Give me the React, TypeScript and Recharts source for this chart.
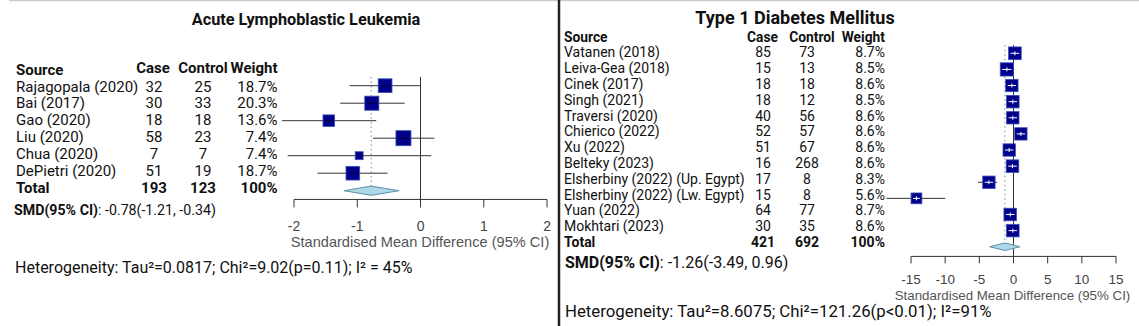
import React from 'react'
import { ScatterChart, Scatter, XAxis, YAxis, ZAxis, ErrorBar, ReferenceLine } from 'recharts'

// Acute Lymphoblastic Leukemia
const sourcesL = ['Rajagopala (2020)', 'Bai (2017)', 'Gao (2020)', 'Liu (2020)', 'Chua (2020)', 'DePietri (2020)']
const caseL = [32, 30, 18, 58, 7, 51]
const controlL = [25, 33, 18, 23, 7, 19]
const weightL = ['18.7%', '20.3%', '13.6%', '7.4%', '7.4%', '18.7%']
const smdL = [-0.56, -0.77, -1.45, -0.27, -0.97, -1.07]
const lowL = [-1.12, -1.27, -2.19, -0.75, -2.1, -1.63]
const highL = [0.0, -0.25, -0.7, 0.22, 0.17, -0.52]
const boxL = [0.84, 0.88, 0.6, 1, 0.28, 0.83]
const totalL = { cases: 193, controls: 123, weight: '100%', est: -0.78, low: -1.21, high: -0.34 }
const ticksL = [-2, -1, 0, 1, 2]

// Type 1 Diabetes Mellitus
const sourcesR = [
  'Vatanen (2018)', 'Leiva-Gea (2018)', 'Cinek (2017)', 'Singh (2021)', 'Traversi (2020)', 'Chierico (2022)',
  'Xu (2022)', 'Belteky (2023)', 'Elsherbiny (2022) (Up. Egypt)', 'Elsherbiny (2022) (Lw. Egypt)', 'Yuan (2022)',
  'Mokhtari (2023)',
]
const caseR = [85, 15, 18, 18, 40, 52, 51, 16, 17, 15, 64, 30]
const controlR = [73, 13, 18, 12, 56, 57, 67, 268, 8, 8, 77, 35]
const weightR = ['8.7%', '8.5%', '8.6%', '8.5%', '8.6%', '8.6%', '8.6%', '8.6%', '8.3%', '5.6%', '8.7%', '8.6%']
const smdR = [0.2, -0.97, -0.24, -0.1, -0.1, 1.08, -0.63, -0.15, -3.6, -14.2, -0.48, -0.1]
const lowR = [-0.12, -1.8, -0.9, -0.8, -0.5, 0.65, -1.0, -0.68, -5.2, -18.6, -0.82, -0.6]
const highR = [0.52, -0.15, 0.42, 0.6, 0.3, 1.5, -0.26, 0.38, -2.4, -10.0, -0.14, 0.4]
const boxR = [0.72, 0.78, 0.68, 0.7, 0.68, 0.68, 0.68, 0.7, 0.68, 0.52, 0.7, 0.7]
const totalR = { cases: 421, controls: 692, weight: '100%', est: -1.26, low: -3.49, high: 0.96 }
const ticksR = [-15, -10, -5, 0, 5, 10, 15]

const TEXT_FONT = 'Roboto, "Noto Sans", sans-serif'
const AXIS_FONT = '"Liberation Sans", Arial, sans-serif'
const BOX_FILL = '#00008B'

function buildRows(est: number[], low: number[], high: number[], box: number[]) {
  return est.map((x, i) => ({ x, y: i, z: box[i], err: [x - low[i], high[i] - x] }))
}

function makeBox(inner: string, cross: boolean) {
  return (props: any) => {
    const { cx, cy, width } = props
    const s = width
    return (
      <g>
        <rect x={cx - s / 2} y={cy - s / 2} width={s} height={s} fill={BOX_FILL} stroke="#3b4fb8" strokeWidth={0.8} />
        <line x1={cx - s / 2 + 2} x2={cx + s / 2 - 2} y1={cy} y2={cy} stroke={inner} strokeWidth={1} />
        {cross && <line x1={cx} x2={cx} y1={cy - 2} y2={cy + 2} stroke={inner} strokeWidth={1} />}
      </g>
    )
  }
}

function diamond(est: number, low: number, high: number, half: number) {
  return (p: any) => {
    const { x1, x2, y1 } = p
    const mid = x1 + ((est - low) / (high - low)) * (x2 - x1)
    const pts = `${x1},${y1} ${mid},${y1 - half} ${x2},${y1} ${mid},${y1 + half}`
    return <polygon points={pts} fill="#add8e6" stroke="#5f8fa8" strokeWidth={1} />
  }
}

interface ForestProps {
  left: number
  width: number
  margin: { top: number; right: number; left: number; bottom: number }
  axisHeight: number
  xDomain: [number, number]
  yBottom: number
  ticks: number[]
  rows: ReturnType<typeof buildRows>
  total: typeof totalL
  tickSize: number
  tickMargin: number
  tickFont: number
  diamondHalf: number
  innerColor: string
  cross: boolean
}

function Forest(p: ForestProps) {
  const n = p.rows.length
  return (
    <div style={{ position: 'absolute', left: p.left, top: 0 }}>
      <ScatterChart width={p.width} height={326} margin={p.margin}>
        <XAxis
          type="number"
          dataKey="x"
          domain={p.xDomain}
          ticks={p.ticks}
          interval={0}
          allowDataOverflow
          axisLine={false}
          tickLine={{ stroke: '#333' }}
          tickSize={p.tickSize}
          tickMargin={p.tickMargin}
          height={p.axisHeight}
          tick={{ fill: '#444', fontSize: p.tickFont, fontFamily: AXIS_FONT }}
        />
        <YAxis type="number" dataKey="y" domain={[-0.5, p.yBottom]} reversed hide allowDataOverflow />
        <ZAxis type="number" dataKey="z" domain={[0, 1]} range={[0, 177]} />
        <ReferenceLine
          segment={[{ x: 0, y: -0.5 }, { x: 0, y: p.yBottom }]}
          stroke="#333"
          strokeWidth={1}
        />
        <ReferenceLine
          segment={[{ x: p.total.est, y: -0.5 }, { x: p.total.est, y: n }]}
          stroke="#888"
          strokeWidth={1}
          strokeDasharray="1.5 3"
        />
        <ReferenceLine
          segment={[{ x: p.ticks[0], y: p.yBottom }, { x: p.ticks[p.ticks.length - 1], y: p.yBottom }]}
          stroke="#333"
          strokeWidth={1}
        />
        <ReferenceLine
          segment={[{ x: p.total.low, y: n }, { x: p.total.high, y: n }]}
          shape={diamond(p.total.est, p.total.low, p.total.high, p.diamondHalf)}
        />
        <Scatter data={p.rows} shape={makeBox(p.innerColor, p.cross)} isAnimationActive={false}>
          <ErrorBar dataKey="err" direction="x" width={0} stroke="#333" strokeWidth={1} isAnimationActive={false} />
        </Scatter>
      </ScatterChart>
    </div>
  )
}

interface TableProps {
  sources: string[]
  cases: number[]
  controls: number[]
  weights: string[]
  total: typeof totalL
  fontSize: number
  headFont: number
  srcX: number
  caseX: number
  ctrlX: number
  weightX: number
  headCaseX: number
  headCtrlX: number
  headSrcY: number
  headY: number
  rowY: number
  step: number
}

function Table(t: TableProps) {
  const totalY = t.rowY + t.step * t.sources.length
  return (
    <g fontFamily={TEXT_FONT} fontSize={t.fontSize} fill="#111">
      <g fontWeight="bold" fontSize={t.headFont}>
        <text x={t.srcX} y={t.headSrcY}>Source</text>
        <text x={t.headCaseX} y={t.headY} textAnchor="middle">Case</text>
        <text x={t.headCtrlX} y={t.headY} textAnchor="middle">Control</text>
        <text x={t.weightX} y={t.headY} textAnchor="end">Weight</text>
      </g>
      {t.sources.map((s, i) => {
        const y = t.rowY + t.step * i
        return (
          <g key={s}>
            <text x={t.srcX} y={y}>{s}</text>
            <text x={t.caseX} y={y} textAnchor="middle">{t.cases[i]}</text>
            <text x={t.ctrlX} y={y} textAnchor="middle">{t.controls[i]}</text>
            <text x={t.weightX} y={y} textAnchor="end">{t.weights[i]}</text>
          </g>
        )
      })}
      <g fontWeight="bold">
        <text x={t.srcX} y={totalY}>Total</text>
        <text x={t.caseX} y={totalY} textAnchor="middle">{t.total.cases}</text>
        <text x={t.ctrlX} y={totalY} textAnchor="middle">{t.total.controls}</text>
        <text x={t.weightX} y={totalY} textAnchor="end">{t.total.weight}</text>
      </g>
    </g>
  )
}

export default function App() {
  const rowsL = buildRows(smdL, lowL, highL, boxL)
  const rowsR = buildRows(smdR, lowR, highR, boxR)
  return (
    <div style={{ position: 'absolute', left: 0, top: 0, width: 1139, height: 326, background: '#fff', overflow: 'hidden' }}>
      <svg width={1139} height={326} style={{ position: 'absolute', left: 0, top: 0 }}>
        <line x1={9} x2={1139} y1={0.5} y2={0.5} stroke="#ccc" strokeWidth={1.5} />
        <line x1={559} x2={559} y1={0} y2={326} stroke="#222" strokeWidth={2.5} />

        <text x={306} y={25} textAnchor="middle" fontFamily={TEXT_FONT} fontWeight="bold" fontSize={16.3} fill="#111">
          Acute Lymphoblastic Leukemia
        </text>
        <Table
          sources={sourcesL} cases={caseL} controls={controlL} weights={weightL} total={totalL}
          fontSize={15} headFont={15} srcX={16} caseX={154} ctrlX={203} weightX={277.5} headCaseX={153} headCtrlX={203}
          headSrcY={75} headY={72.5} rowY={91.5} step={16.9}
        />
        <text x={14} y={215} fontFamily={TEXT_FONT} fontSize={14.2} fill="#111">
          <tspan fontWeight="bold">SMD(95% CI)</tspan>: -0.78(-1.21, -0.34)
        </text>
        <text x={420} y={246.5} textAnchor="middle" fontFamily={AXIS_FONT} fontSize={14.6} fill="#555">
          Standardised Mean Difference (95% CI)
        </text>
        <text x={15} y={273} fontFamily={TEXT_FONT} fontSize={16} fill="#111">
          Heterogeneity: Tau²=0.0817; Chi²=9.02(p=0.11); I² = 45%
        </text>

        <text x={795} y={24} textAnchor="middle" fontFamily={TEXT_FONT} fontWeight="bold" fontSize={18} fill="#111">
          Type 1 Diabetes Mellitus
        </text>
        <Table
          sources={sourcesR} cases={caseR} controls={controlR} weights={weightR} total={totalR}
          fontSize={14} headFont={13.8} srcX={564} caseX={763} ctrlX={807} weightX={885} headCaseX={762.5} headCtrlX={812}
          headSrcY={41.5} headY={41.5} rowY={57.3} step={15.8}
        />
        <text x={565} y={268} fontFamily={TEXT_FONT} fontSize={16} fill="#111">
          <tspan fontWeight="bold">SMD(95% CI)</tspan>: -1.26(-3.49, 0.96)
        </text>
        <text x={1012.5} y={300} textAnchor="middle" fontFamily={AXIS_FONT} fontSize={13.3} fill="#555">
          Standardised Mean Difference (95% CI)
        </text>
        <text x={565} y={317} fontFamily={TEXT_FONT} fontSize={16.8} fill="#111">
          Heterogeneity: Tau²=8.6075; Chi²=121.26(p&lt;0.01); I²=91%
        </text>
      </svg>

      <Forest
        left={260}
        width={300}
        margin={{ top: 76.95, right: 9.8, left: 18.2, bottom: 0 }}
        axisHeight={126.55}
        xDomain={[-2.25, 2.05]}
        yBottom={6.5}
        ticks={ticksL}
        rows={rowsL}
        total={totalL}
        tickSize={8}
        tickMargin={14}
        tickFont={14}
        diamondHalf={4.6}
        innerColor="#000030"
        cross={false}
      />
      <Forest
        left={870}
        width={260}
        margin={{ top: 45.24, right: 10.58, left: 13.67, bottom: 0 }}
        axisHeight={69.6}
        xDomain={[-19, 15.5]}
        yBottom={12.6}
        ticks={ticksR}
        rows={rowsR}
        total={totalR}
        tickSize={7}
        tickMargin={11}
        tickFont={13.5}
        diamondHalf={3.8}
        innerColor="#ffffff"
        cross
      />
    </div>
  )
}
